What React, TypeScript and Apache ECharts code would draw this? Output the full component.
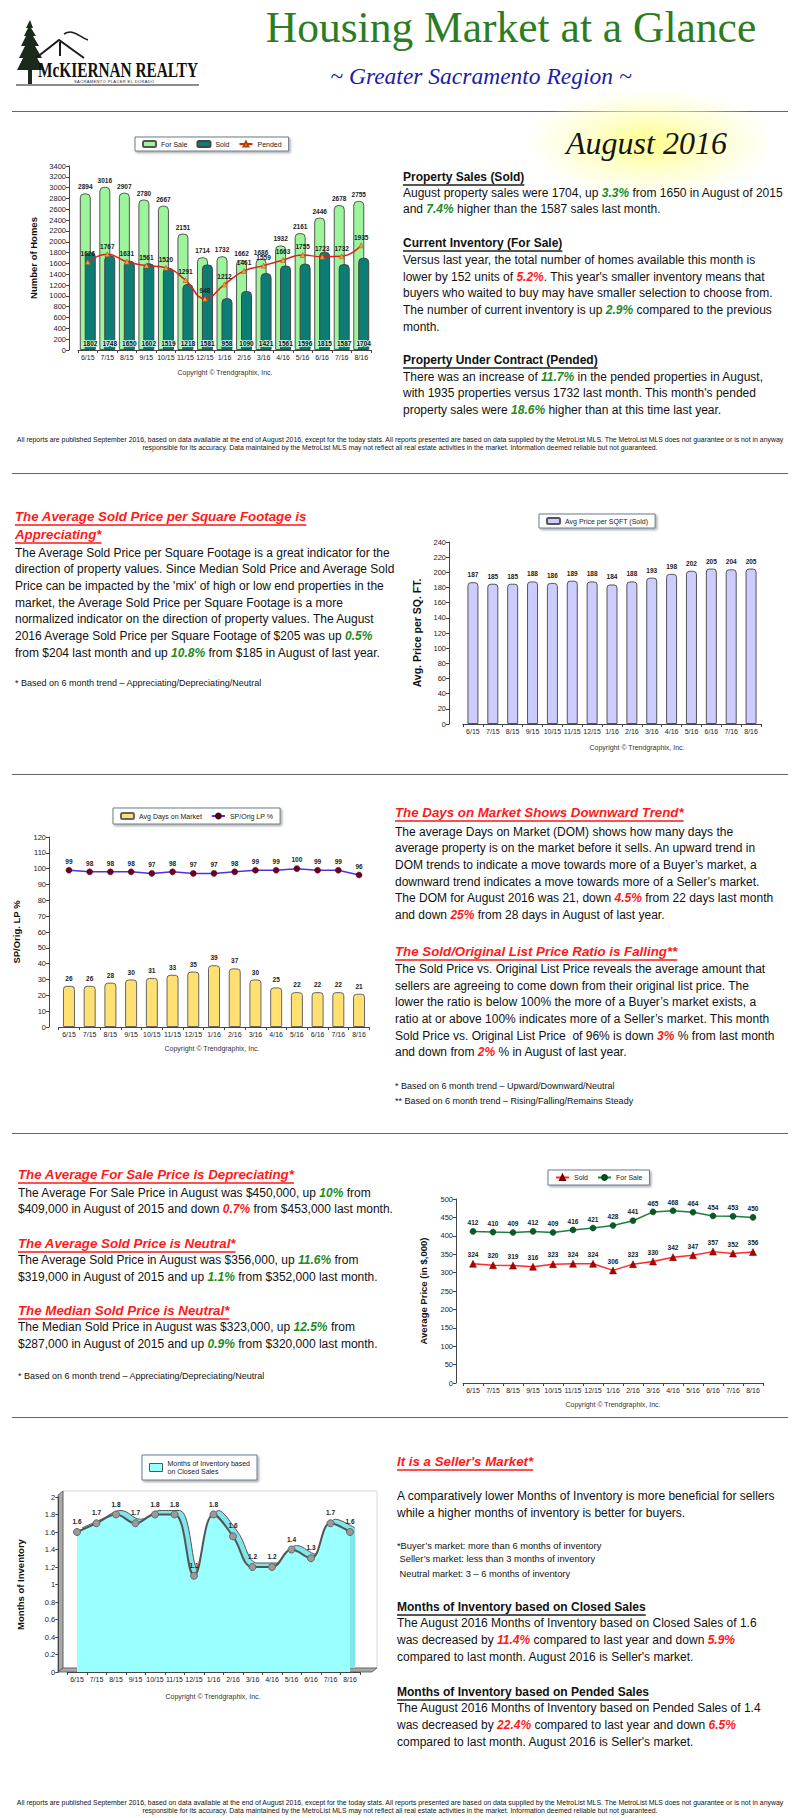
import React, { useEffect, useRef } from 'react';
import * as echarts from 'echarts';

// ---------------- DATA ----------------
const months = ['6/15', '7/15', '8/15', '9/15', '10/15', '11/15', '12/15', '1/16', '2/16', '3/16', '4/16', '5/16', '6/16', '7/16', '8/16'];
const forSaleCount = [2894, 3016, 2907, 2780, 2667, 2151, 1714, 1732, 1662, 1686, 1932, 2161, 2446, 2678, 2755];
const soldCount = [1802, 1748, 1650, 1602, 1519, 1218, 1581, 958, 1090, 1421, 1561, 1596, 1815, 1587, 1704];
const pendedCount = [1626, 1767, 1631, 1561, 1520, 1291, 948, 1212, 1461, 1559, 1663, 1755, 1723, 1732, 1935];
const pricePerSqft = [187, 185, 185, 188, 186, 189, 188, 184, 188, 193, 198, 202, 205, 204, 205];
const daysOnMarket = [26, 26, 28, 30, 31, 33, 35, 39, 37, 30, 25, 22, 22, 22, 21];
const spOrigLp = [99, 98, 98, 98, 97, 98, 97, 97, 98, 99, 99, 100, 99, 99, 96];
const avgSoldPrice = [324, 320, 319, 316, 323, 324, 324, 306, 323, 330, 342, 347, 357, 352, 356];
const avgForSalePrice = [412, 410, 409, 412, 409, 416, 421, 428, 441, 465, 468, 464, 454, 453, 450];
const monthsInventory = [1.6, 1.7, 1.8, 1.7, 1.8, 1.8, 1.1, 1.8, 1.55, 1.2, 1.2, 1.4, 1.3, 1.7, 1.6];

const COPYRIGHT = 'Copyright \u00A9 Trendgraphix, Inc.';
const FONT = '"Liberation Sans", Arial, Helvetica, sans-serif';
const GREEN = '#1f8a1f';
const RED = '#ff1a1a';

// ---------------- TEXT ----------------
const sec1 = [
  { cy: 176.7, t: 'Property Sales (Sold)', k: 'h' },
  { cy: 192.7, t: 'August property sales were 1704, up {g|3.3%} from 1650 in August of 2015' },
  { cy: 209.3, t: 'and {g|7.4%} higher than the 1587 sales last month.' },
  { cy: 243.3, t: 'Current Inventory (For Sale)', k: 'h' },
  { cy: 260, t: 'Versus last year, the total number of homes available this month is' },
  { cy: 276.7, t: "lower by 152 units of {r|5.2%}. This year's smaller inventory means that" },
  { cy: 293.3, t: 'buyers who waited to buy may have smaller selection to choose from.' },
  { cy: 310, t: 'The number of current inventory is up {g|2.9%} compared to the previous' },
  { cy: 326.7, t: 'month.' },
  { cy: 360, t: 'Property Under Contract (Pended)', k: 'h' },
  { cy: 376.7, t: 'There was an increase of {g|11.7%} in the pended properties in August,' },
  { cy: 393.3, t: "with 1935 properties versus 1732 last month. This month's pended" },
  { cy: 410, t: 'property sales were {g|18.6%} higher than at this time last year.' },
];
const sec2 = [
  { cy: 516.7, t: 'The Average Sold Price per Square Footage is', k: 'r' },
  { cy: 535, t: 'Appreciating*', k: 'r' },
  { cy: 552.7, t: 'The Average Sold Price per Square Footage is a great indicator for the' },
  { cy: 569.3, t: 'direction of property values. Since Median Sold Price and Average Sold' },
  { cy: 586, t: "Price can be impacted by the 'mix' of high or low end properties in the" },
  { cy: 602.7, t: 'market, the Average Sold Price per Square Footage is a more' },
  { cy: 619.3, t: 'normalized indicator on the direction of property values. The August' },
  { cy: 636, t: '2016 Average Sold Price per Square Footage of $205 was up {g|0.5%}' },
  { cy: 652.7, t: 'from $204 last month and up {g|10.8%} from $185 in August of last year.' },
  { cy: 683, t: '* Based on 6 month trend \u2013 Appreciating/Depreciating/Neutral', k: 's' },
];
const sec3 = [
  { cy: 813, t: 'The Days on Market Shows Downward Trend*', k: 'r' },
  { cy: 831.7, t: 'The average Days on Market (DOM) shows how many days the' },
  { cy: 848.3, t: 'average property is on the market before it sells. An upward trend in' },
  { cy: 865, t: 'DOM trends to indicate a move towards more of a Buyer\u2019s market, a' },
  { cy: 881.7, t: 'downward trend indicates a move towards more of a Seller\u2019s market.' },
  { cy: 898.3, t: 'The DOM for August 2016 was 21, down {r|4.5%} from 22 days last month' },
  { cy: 915, t: 'and down {r|25%} from 28 days in August of last year.' },
  { cy: 951.7, t: 'The Sold/Original List Price Ratio is Falling**', k: 'r' },
  { cy: 969, t: 'The Sold Price vs. Original List Price reveals the average amount that' },
  { cy: 985.7, t: 'sellers are agreeing to come down from their original list price. The' },
  { cy: 1002.3, t: 'lower the ratio is below 100% the more of a Buyer\u2019s market exists, a' },
  { cy: 1019, t: 'ratio at or above 100% indicates more of a Seller\u2019s market. This month' },
  { cy: 1035.7, t: 'Sold Price vs. Original List Price  of 96% is down {r|3%} % from last month' },
  { cy: 1052.3, t: 'and down from {r|2%} % in August of last year.' },
  { cy: 1086, t: '* Based on 6 month trend \u2013 Upward/Downward/Neutral', k: 's' },
  { cy: 1100.7, t: '** Based on 6 month trend \u2013 Rising/Falling/Remains Steady', k: 's' },
];
const sec4 = [
  { cy: 1175, t: 'The Average For Sale Price is Depreciating*', k: 'r' },
  { cy: 1192.7, t: 'The Average For Sale Price in August was $450,000, up {g|10%} from' },
  { cy: 1209.3, t: '$409,000 in August of 2015 and down {r|0.7%} from $453,000 last month.' },
  { cy: 1244, t: 'The Average Sold Price is Neutral*', k: 'r' },
  { cy: 1260, t: 'The Average Sold Price in August was $356,000, up {g|11.6%} from' },
  { cy: 1276.7, t: '$319,000 in August of 2015 and up {g|1.1%} from $352,000 last month.' },
  { cy: 1310.7, t: 'The Median Sold Price is Neutral*', k: 'r' },
  { cy: 1327.3, t: 'The Median Sold Price in August was $323,000, up {g|12.5%} from' },
  { cy: 1344, t: '$287,000 in August of 2015 and up {g|0.9%} from $320,000 last month.' },
  { cy: 1376, t: '* Based on 6 month trend \u2013 Appreciating/Depreciating/Neutral', k: 's' },
];
const sec5 = [
  { cy: 1461.7, t: "It is a Seller's Market*", k: 'r' },
  { cy: 1496, t: 'A comparatively lower Months of Inventory is more beneficial for sellers' },
  { cy: 1512.7, t: 'while a higher months of inventory is better for buyers.' },
  { cy: 1546, t: '*Buyer\u2019s market: more than 6 months of inventory', k: 'x' },
  { cy: 1559.3, t: ' Seller\u2019s market: less than 3 months of inventory', k: 'x' },
  { cy: 1574, t: ' Neutral market: 3 \u2013 6 months of inventory', k: 'x' },
  { cy: 1606.7, t: 'Months of Inventory based on Closed Sales', k: 'h' },
  { cy: 1623.3, t: 'The August 2016 Months of Inventory based on Closed Sales of 1.6' },
  { cy: 1640, t: 'was decreased by {r|11.4%} compared to last year and down {r|5.9%}' },
  { cy: 1656.7, t: "compared to last month. August 2016 is Seller's market." },
  { cy: 1691.7, t: 'Months of Inventory based on Pended Sales', k: 'h' },
  { cy: 1708.3, t: 'The August 2016 Months of Inventory based on Pended Sales of 1.4' },
  { cy: 1725, t: 'was decreased by {r|22.4%} compared to last year and down {r|6.5%}' },
  { cy: 1741.7, t: "compared to last month. August 2016 is Seller's market." },
];
const disclaimer1 = 'All reports are published September 2016, based on data available at the end of August 2016, except for the today stats. All reports presented are based on data supplied by the MetroList MLS. The MetroList MLS does not guarantee or is not in anyway';
const disclaimer2 = 'responsible for its accuracy. Data maintained by the MetroList MLS may not reflect all real estate activities in the market. Information deemed reliable but not guaranteed.';

// ---------------- HELPERS ----------------
function Rich({ text }: { text: string }) {
  const parts = text.split(/(\{[gr]\|[^}]*\})/);
  return (
    <>
      {parts.map((p, i) => {
        const m = p.match(/^\{([gr])\|([^}]*)\}$/);
        if (m) return <b key={i} style={{ fontStyle: 'italic', color: m[1] === 'g' ? GREEN : RED }}>{m[2]}</b>;
        return <span key={i}>{p}</span>;
      })}
    </>
  );
}

function Block({ x, lines }: { x: number; lines: { cy: number; t: string; k?: string }[] }) {
  return (
    <>
      {lines.map((l, i) => {
        let st: any = { fontSize: 12 };
        if (l.k === 'h') st = { fontSize: 12, fontWeight: 'bold', textDecoration: 'underline', textDecorationThickness: '2px', textUnderlineOffset: '3px', textDecorationColor: '#555' };
        if (l.k === 'r') st = { fontSize: 13.3, fontWeight: 'bold', fontStyle: 'italic', color: RED, textDecoration: 'underline', textDecorationThickness: '1.5px', textUnderlineOffset: '3px', textDecorationColor: '#ff5050' };
        if (l.k === 's') st = { fontSize: 9 };
        if (l.k === 'x') st = { fontSize: 9.3 };
        const h = 16;
        return (
          <div key={i} style={{ position: 'absolute', left: x, top: l.cy - h / 2, height: h, lineHeight: h + 'px', whiteSpace: 'pre', fontFamily: FONT, color: '#111', ...st }}>
            <Rich text={l.t} />
          </div>
        );
      })}
    </>
  );
}

function Chart({ left, top, width, height, option }: any) {
  const ref = useRef<HTMLDivElement>(null);
  useEffect(() => {
    const c = echarts.init(ref.current!, null, { renderer: 'svg' });
    c.setOption(option);
    return () => c.dispose();
  }, []);
  return <div ref={ref} style={{ position: 'absolute', left, top, width, height }} />;
}

const axisLine = { show: true, lineStyle: { color: '#444', width: 1 } };
function xCat(extra: any = {}) {
  return {
    type: 'category', data: months,
    axisLine, axisTick: { show: true, length: 3, lineStyle: { color: '#444' } },
    axisLabel: { fontSize: 7, color: '#222', margin: 4, interval: 0 },
    ...extra,
  };
}
function yVal(min: number, max: number, interval: number, name: string, nameGap: number, offset: number, extra: any = {}) {
  return {
    type: 'value', min, max, interval, offset, name, nameLocation: 'middle', nameGap,
    nameTextStyle: { fontWeight: 'bold', fontSize: 9.5, color: '#111' },
    axisLine, axisTick: { show: true, length: 3, lineStyle: { color: '#444' } },
    axisLabel: { fontSize: 7.5, color: '#222', margin: 3, formatter: (v: number) => String(v) },
    splitLine: { show: false },
    ...extra,
  };
}
function legend(left: number, top: number, data: any[], extra: any = {}) {
  return {
    left, top, data, backgroundColor: '#fff', borderColor: '#6b7b8c', borderWidth: 1,
    shadowColor: 'rgba(0,0,0,0.35)', shadowBlur: 2, shadowOffsetX: 1.5, shadowOffsetY: 1.5,
    padding: [3, 7], itemGap: 9, itemWidth: 13, itemHeight: 6,
    textStyle: { fontSize: 7, color: '#222', fontFamily: FONT },
    ...extra,
  };
}
function copyright(x: number, y: number) {
  return { type: 'text', x, y, style: { text: COPYRIGHT, textAlign: 'center', verticalAlign: 'middle', fill: '#333', font: '7px ' + FONT } };
}
const lbl = (pos: string, extra: any = {}) => ({ show: true, position: pos, fontSize: 6.5, fontWeight: 'bold', color: '#222', distance: 2, ...extra });

// ---------------- OPTIONS ----------------
const opt1 = {
  animation: false,
  textStyle: { fontFamily: FONT },
  legend: legend(135, 12, ['For Sale', 'Sold', 'Pended']),
  grid: { left: 78, right: 24, top: 41, bottom: 35 },
  xAxis: xCat(),
  yAxis: yVal(0, 3400, 200, 'Number of Homes', 30, 9),
  graphic: [copyright(225, 247)],
  series: [
    { type: 'bar', name: 'For Sale', data: forSaleCount, barWidth: 11, barGap: '-55%', itemStyle: { color: '#9cf59a', borderColor: '#555', borderWidth: 1, borderRadius: [4, 4, 0, 0] }, label: lbl('top', { distance: 3 }) },
    { type: 'bar', name: 'Sold', data: soldCount, barWidth: 11, barGap: '-55%', itemStyle: { color: '#0b7d74', borderColor: '#444', borderWidth: 1, borderRadius: [4, 4, 0, 0] }, label: lbl('insideBottom', { distance: 3, color: '#111', textBorderColor: 'rgba(215,255,240,0.85)', textBorderWidth: 2 }) },
    { type: 'line', name: 'Pended', data: pendedCount, smooth: 0.5, symbol: 'triangle', symbolSize: 5, lineStyle: { color: '#e02020', width: 1.5 }, itemStyle: { color: '#f0a040', borderColor: '#a05000', borderWidth: 0.5 }, label: lbl('top') },
  ],
};

const opt2 = {
  animation: false,
  textStyle: { fontFamily: FONT },
  legend: legend(139, 14, ['Avg Price per SQFT (Sold)']),
  grid: { left: 63, right: 39, top: 42, bottom: 36 },
  xAxis: xCat(),
  yAxis: yVal(0, 240, 20, 'Avg. Price per SQ. FT.', 26, 14, { nameTextStyle: { fontWeight: 'bold', fontSize: 10.5, color: '#111' } }),
  graphic: [copyright(237, 247)],
  series: [
    { type: 'bar', name: 'Avg Price per SQFT (Sold)', data: pricePerSqft, barWidth: 11, itemStyle: { color: '#ccccff', borderColor: '#555', borderWidth: 1, borderRadius: [3, 3, 0, 0] }, label: lbl('top', { distance: 4 }) },
  ],
};

const opt3 = {
  animation: false,
  textStyle: { fontFamily: FONT },
  legend: legend(113, 18, ['Avg Days on Market', 'SP/Orig LP %'], { padding: [4, 7] }),
  grid: { left: 58.6, right: 25.6, top: 47, bottom: 33 },
  xAxis: xCat(),
  yAxis: yVal(0, 120, 10, 'SP/Orig. LP %', 28, 9.6),
  graphic: [copyright(212, 258)],
  series: [
    { type: 'bar', name: 'Avg Days on Market', data: daysOnMarket, barWidth: 12, itemStyle: { color: '#ffe070', borderColor: '#666', borderWidth: 1, borderRadius: [3, 3, 0, 0] }, label: lbl('top', { distance: 4 }) },
    { type: 'line', name: 'SP/Orig LP %', data: spOrigLp, symbol: 'circle', symbolSize: 6, lineStyle: { color: '#5530e0', width: 1.5 }, itemStyle: { color: '#6d0020', borderColor: '#4a0015', borderWidth: 0.5 }, label: lbl('top') },
  ],
};

const opt4 = {
  animation: false,
  textStyle: { fontFamily: FONT },
  legend: legend(148, 30, ['Sold', 'For Sale'], { padding: [4, 7] }),
  grid: { left: 63, right: 37, top: 59, bottom: 37 },
  xAxis: xCat(),
  yAxis: yVal(0, 500, 50, 'Average Price (in $,000)', 28, 7),
  graphic: [copyright(213, 264)],
  series: [
    { type: 'line', name: 'Sold', data: avgSoldPrice, symbol: 'triangle', symbolSize: 7, lineStyle: { color: '#ff2a2a', width: 1.5 }, itemStyle: { color: '#b00000', borderColor: '#700000', borderWidth: 0.5 }, label: lbl('top') },
    { type: 'line', name: 'For Sale', data: avgForSalePrice, symbol: 'circle', symbolSize: 6, lineStyle: { color: '#1f7f3f', width: 1.5 }, itemStyle: { color: '#0a5a28', borderColor: '#063d1a', borderWidth: 0.5 }, label: lbl('top') },
  ],
};

const MOI = 'Months of Inventory based\non Closed Sales';
const opt5 = {
  animation: false,
  textStyle: { fontFamily: FONT },
  legend: legend(142, 35, [{ name: MOI, icon: 'rect', itemStyle: { color: '#99ffff', borderColor: '#555', borderWidth: 1 } }], { padding: [4, 7], itemHeight: 8, textStyle: { fontSize: 7, color: '#222', lineHeight: 8.5, fontFamily: FONT } }),
  grid: [
    { left: 67.25, right: 35.25, top: 77, bottom: 48 },
    { left: 72.25, right: 30.25, top: 73, bottom: 52 },
  ],
  xAxis: [xCat({ gridIndex: 0 }), { type: 'category', data: months, gridIndex: 1, show: false }],
  yAxis: [
    yVal(0, 2, 0.2, 'Months of Inventory', 33, 9, { gridIndex: 0 }),
    { type: 'value', min: 0, max: 2, gridIndex: 1, show: false },
  ],
  graphic: [
    { type: 'rect', z: -10, shape: { x: 63, y: 71, width: 314, height: 177 }, style: { fill: '#fff', stroke: '#d8d8d8', lineWidth: 1 } },
    { type: 'polygon', z: -9, shape: { points: [[58, 75], [63, 71], [63, 248], [58, 252]] }, style: { fill: '#a8a8a8', stroke: '#555', lineWidth: 0.8 } },
    { type: 'polygon', z: -9, shape: { points: [[58, 252], [63, 248], [377, 248], [372, 252]] }, style: { fill: '#a8a8a8', stroke: '#555', lineWidth: 0.8 } },
    copyright(213, 276),
  ],
  series: [
    { type: 'line', name: 'ribbon', xAxisIndex: 1, yAxisIndex: 1, data: monthsInventory, smooth: 0.4, symbol: 'none', silent: true, lineStyle: { color: '#555', width: 1 }, areaStyle: { color: '#7fe6ec', opacity: 1 }, z: 1 },
    { type: 'line', name: MOI, xAxisIndex: 0, yAxisIndex: 0, data: monthsInventory, smooth: 0.4, symbol: 'circle', symbolSize: 7, lineStyle: { color: '#555', width: 2 }, itemStyle: { color: '#9a9a9a', borderColor: '#666', borderWidth: 1 }, areaStyle: { color: '#99ffff', opacity: 1 }, label: lbl('top', { formatter: (p: any) => Number(p.value).toFixed(1), distance: 3 }), z: 2 },
  ],
};

// ---------------- LOGO ----------------
function Logo() {
  return (
    <svg width={240} height={80} style={{ position: 'absolute', left: 14, top: 18 }}>
      <polygon fill="#1b2a1b" points="16,2 19,10 17,10 22,18 19,18 25,28 21,28 28,40 23,40 30,52 18,52 18,66 14,66 14,52 3,52 9,40 5,40 11,28 7,28 12,18 10,18 14,10 12,10" />
      <polyline points="22,40 45,22 70,40" fill="none" stroke="#1b1b1b" strokeWidth={2} />
      <path d="M50,16 C60,10 66,20 74,22" fill="none" stroke="#1b1b1b" strokeWidth={1.5} />
      <line x1={46} y1={24} x2={46} y2={38} stroke="#1b1b1b" strokeWidth={2} />
      <line x1={2} y1={67} x2={185} y2={67} stroke="#1b1b1b" strokeWidth={1} />
      <text x={24} y={59} fontFamily='"Liberation Serif", serif' fontWeight="bold" fontSize={20} textLength={160} lengthAdjust="spacingAndGlyphs" fill="#111">McKIERNAN REALTY</text>
      <text x={60} y={65} fontFamily={FONT} fontSize={4} fill="#222" letterSpacing={0.4}>SACRAMENTO          PLACER          EL DORADO</text>
    </svg>
  );
}

const hr = (y: number) => <div style={{ position: 'absolute', left: 12, top: y, width: 776, height: 0, borderTop: '1.5px solid #666' }} />;

export default function App() {
  return (
    <div style={{ position: 'absolute', left: 0, top: 0, width: 800, height: 1818, background: '#fff', overflow: 'hidden', fontFamily: FONT }}>
      <Logo />
      <div style={{ position: 'absolute', left: 211, top: 3, width: 600, textAlign: 'center', fontFamily: '"Liberation Serif", serif', fontSize: 43.5, color: '#2c7d22', whiteSpace: 'nowrap', lineHeight: '48px' }}>Housing Market at a Glance</div>
      <div style={{ position: 'absolute', left: 281, top: 62, width: 400, textAlign: 'center', fontFamily: '"Liberation Serif", serif', fontStyle: 'italic', fontSize: 23.5, color: '#1c1ca8', whiteSpace: 'nowrap', lineHeight: '28px' }}>~ Greater Sacramento Region ~</div>
      {hr(111)}
      <div style={{ position: 'absolute', left: 525, top: 88, width: 250, height: 110, background: 'radial-gradient(ellipse at center, rgba(255,255,140,1) 0%, rgba(255,255,190,0.75) 35%, rgba(255,255,255,0) 70%)' }} />
      <div style={{ position: 'absolute', left: 566, top: 124, fontFamily: '"Liberation Serif", serif', fontStyle: 'italic', fontSize: 32, color: '#151515', whiteSpace: 'nowrap', lineHeight: '38px' }}>August 2016</div>

      <Chart left={0} top={125} width={395} height={260} option={opt1} />
      <Block x={403} lines={sec1} />
      <div style={{ position: 'absolute', left: 0, top: 436, width: 800, textAlign: 'center', fontSize: 6.9, lineHeight: '8px', color: '#111', whiteSpace: 'pre' }}>{disclaimer1 + '\n' + disclaimer2}</div>
      {hr(473)}

      <Block x={15} lines={sec2} />
      <Chart left={400} top={500} width={400} height={260} option={opt2} />
      {hr(774)}

      <Chart left={0} top={790} width={395} height={270} option={opt3} />
      <Block x={395} lines={sec3} />
      {hr(1133)}

      <Block x={18} lines={sec4} />
      <Chart left={400} top={1140} width={400} height={280} option={opt4} />
      {hr(1417)}

      <Chart left={0} top={1420} width={395} height={300} option={opt5} />
      <Block x={397} lines={sec5} />

      <div style={{ position: 'absolute', left: 0, top: 1799, width: 800, textAlign: 'center', fontSize: 6.9, lineHeight: '8px', color: '#111', whiteSpace: 'pre' }}>{disclaimer1 + '\n' + disclaimer2}</div>
    </div>
  );
}
